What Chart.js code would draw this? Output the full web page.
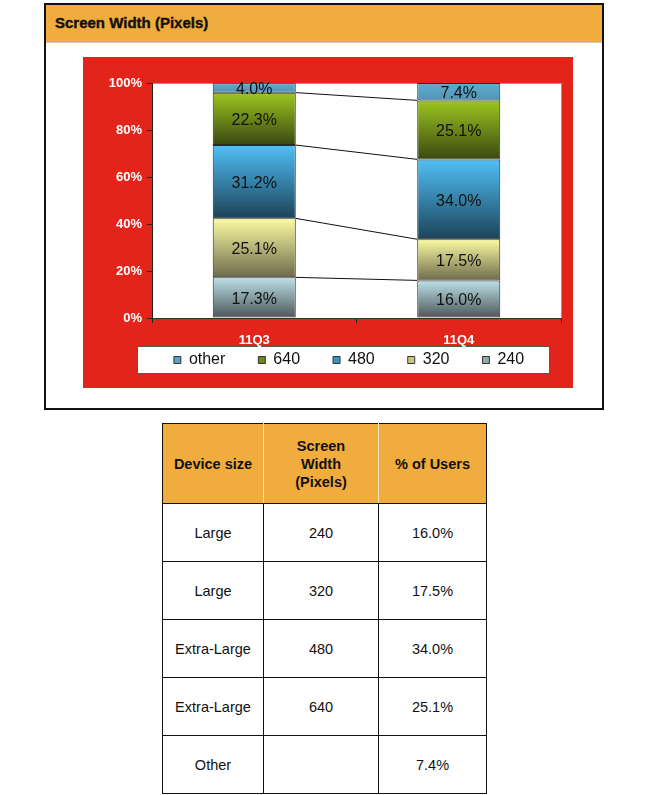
<!DOCTYPE html>
<html>
<head>
<meta charset="utf-8">
<script src="https://cdn.jsdelivr.net/npm/chart.js@4.4.1/dist/chart.umd.min.js"></script>
<style>
  html, body { margin: 0; padding: 0; background: #fff; width: 650px; height: 795px; overflow: hidden; font-family: "Liberation Sans", Arial, sans-serif; }
  #outer { position: absolute; left: 44px; top: 3px; width: 556px; height: 403px; border: 2px solid #111; background: #fff; }
  #hdr { position: absolute; left: 0; top: 0; width: 556px; height: 37px; background: #f0ac3d; border-bottom: 1px solid #c9c9c9; }
  #hdr span { position: absolute; left: 9px; top: 9px; font-weight: bold; font-size: 15px; color: #111; -webkit-text-stroke: 0.4px #111; }
  #red { position: absolute; left: 83px; top: 57px; width: 490px; height: 331px; background: #e3241b; }
  #tbl { position: absolute; left: 162px; top: 423px; border-collapse: collapse; font-size: 14.5px; color: #111; }
  #tbl td, #tbl th { border: 1.5px solid #111; text-align: center; vertical-align: middle; padding: 0; }
  #tbl th { background: #f0ac3d; font-weight: bold; height: 79px; line-height: 18px; border-left-color: #f6e6c6; border-right-color: #f6e6c6; }
  #tbl th:first-child { border-left-color: #111; }
  #tbl th:last-child { border-right-color: #111; }
  #tbl td { height: 57px; }
</style>
</head>
<body>
<div id="outer"><div id="hdr"><span>Screen Width (Pixels)</span></div></div>
<div id="red"><canvas id="c" width="490" height="331"></canvas></div>
<table id="tbl"></table>
<script>
// ---- data ----
const categories = ['11Q3', '11Q4'];
const seriesNames = ['240', '320', '480', '640', 'other'];
const values240 = [17.3, 16.0];
const values320 = [25.1, 17.5];
const values480 = [31.2, 34.0];
const values640 = [22.3, 25.1];
const valuesOther = [4.0, 7.4];
const yTickValues = [0, 20, 40, 60, 80, 100];

const tableHeaders = ['Device size', 'Screen<br>Width<br>(Pixels)', '% of Users'];
const deviceSizes = ['Large', 'Large', 'Extra-Large', 'Extra-Large', 'Other'];
const screenWidths = ['240', '320', '480', '640', ''];
const userShares = ['16.0%', '17.5%', '34.0%', '25.1%', '7.4%'];

// ---- styles ----
const gradTop = ['#bde2e8', '#fcfca2', '#50c0f8', '#9dc620', '#62abcb'];
const gradBottom = ['#4a5558', '#6e6a4c', '#1c4257', '#394811', '#5096b6'];
const legendFill = ['#8fa9ad', '#c8c679', '#3a92c4', '#6c8a1a', '#5ba2c2'];

const seriesValues = [values240, values320, values480, values640, valuesOther];

function makeGradient(di) {
  return (ctx) => {
    const chart = ctx.chart;
    if (!chart.chartArea || ctx.type !== 'data') return legendFill[di];
    const y = chart.scales.y;
    let base = 0;
    for (let k = 0; k < di; k++) base += seriesValues[k][ctx.dataIndex];
    const top = base + seriesValues[di][ctx.dataIndex];
    const y0 = y.getPixelForValue(top), y1 = y.getPixelForValue(base);
    const g = chart.ctx.createLinearGradient(0, y0, 0, y1);
    g.addColorStop(0, gradTop[di]);
    g.addColorStop(1, gradBottom[di]);
    return g;
  };
}

// ---- table ----
(function buildTable() {
  const t = document.getElementById('tbl');
  let html = '<tr>' + tableHeaders.map((h, i) => `<th style="width:${[100,114,107][i]}px">${h}</th>`).join('') + '</tr>';
  for (let i = 0; i < deviceSizes.length; i++) {
    html += `<tr><td>${deviceSizes[i]}</td><td>${screenWidths[i]}</td><td>${userShares[i]}</td></tr>`;
  }
  t.innerHTML = html;
})();

// ---- chart ----
Chart.defaults.font.family = '"Liberation Sans", Arial, sans-serif';

const decorPlugin = {
  id: 'decor',
  afterLayout(chart) {
    const lg = chart.legend;
    const h = lg.height;
    lg.top = chart.chartArea.bottom + 1;
    lg.bottom = lg.top + h;
    lg.left = 54;
  },
  beforeDraw(chart) {
    const { ctx, chartArea: a, legend } = chart;
    ctx.save();
    ctx.fillStyle = '#fff';
    ctx.fillRect(a.left, a.top, a.right - a.left, a.bottom - a.top);
    ctx.strokeStyle = '#9a9a9a';
    ctx.lineWidth = 1;
    ctx.beginPath();
    ctx.moveTo(a.left, a.top + 0.5);
    ctx.lineTo(a.right + 0.5, a.top + 0.5);
    ctx.lineTo(a.right + 0.5, a.bottom);
    ctx.stroke();
    // legend box
    const lx = legend.left, ly = legend.top + 27;
    ctx.fillStyle = '#fff';
    ctx.fillRect(lx, ly, 412, 27);
    ctx.strokeStyle = '#555';
    ctx.strokeRect(lx + 0.5, ly + 0.5, 412, 27);
    ctx.restore();
  },
  afterDatasetsDraw(chart) {
    const { ctx } = chart;
    ctx.save();
    // connector lines between stacks
    ctx.strokeStyle = '#111';
    ctx.lineWidth = 1;
    for (let d = 0; d < seriesNames.length - 1; d++) {
      const els = chart.getDatasetMeta(d).data;
      ctx.beginPath();
      ctx.moveTo(els[0].x + els[0].width / 2, els[0].y);
      ctx.lineTo(els[1].x - els[1].width / 2, els[1].y);
      ctx.stroke();
    }
    // value labels
    ctx.fillStyle = '#111';
    ctx.font = '16px "Liberation Sans", Arial, sans-serif';
    ctx.textAlign = 'center';
    ctx.textBaseline = 'middle';
    for (let d = 0; d < seriesNames.length; d++) {
      const els = chart.getDatasetMeta(d).data;
      els.forEach((el, i) => {
        ctx.fillText(seriesValues[d][i].toFixed(1) + '%', el.x, (el.y + el.base) / 2 + 2);
      });
    }
    ctx.restore();
  }
};

new Chart(document.getElementById('c'), {
  type: 'bar',
  data: {
    labels: categories,
    datasets: seriesNames.map((name, di) => ({
      label: name,
      data: seriesValues[di],
      backgroundColor: makeGradient(di),
      borderColor: '#2a2a2a',
      borderWidth: 1,
      borderSkipped: false,
      categoryPercentage: 1,
      barPercentage: 0.406
    }))
  },
  options: {
    responsive: false,
    animation: false,
    layout: { padding: { top: 26, right: 12, bottom: -20, left: 0 } },
    scales: {
      x: {
        stacked: true,
        grid: { drawOnChartArea: false, drawTicks: true, tickLength: 5, color: '#222', offset: true },
        border: { color: '#333', width: 1 },
        ticks: { color: '#fff', font: { size: 13, weight: 'bold' }, padding: 10 },
        afterFit(scale) { scale.height = 31; }
      },
      y: {
        stacked: true,
        min: 0,
        max: 100,
        afterBuildTicks(scale) { scale.ticks = yTickValues.map(v => ({ value: v })); },
        grid: { drawOnChartArea: false, drawTicks: true, tickLength: 5, color: '#222' },
        border: { color: '#222', width: 1 },
        ticks: { color: '#fff', font: { size: 13, weight: 'bold' }, padding: 5, callback: v => v + '%' },
        afterFit(scale) { scale.width = 69; }
      }
    },
    plugins: {
      tooltip: { enabled: false },
      legend: {
        position: 'bottom',
        reverse: true,
        labels: {
          boxWidth: 7,
          boxHeight: 7,
          padding: 33,
          color: '#111',
          font: { size: 16 },
          generateLabels(chart) {
            const items = Chart.defaults.plugins.legend.labels.generateLabels(chart);
            items.forEach(it => {
              it.fillStyle = legendFill[it.datasetIndex];
              it.strokeStyle = '#333';
              it.lineWidth = 1;
            });
            return items;
          }
        }
      }
    }
  },
  plugins: [decorPlugin]
});
</script>
</body>
</html>
